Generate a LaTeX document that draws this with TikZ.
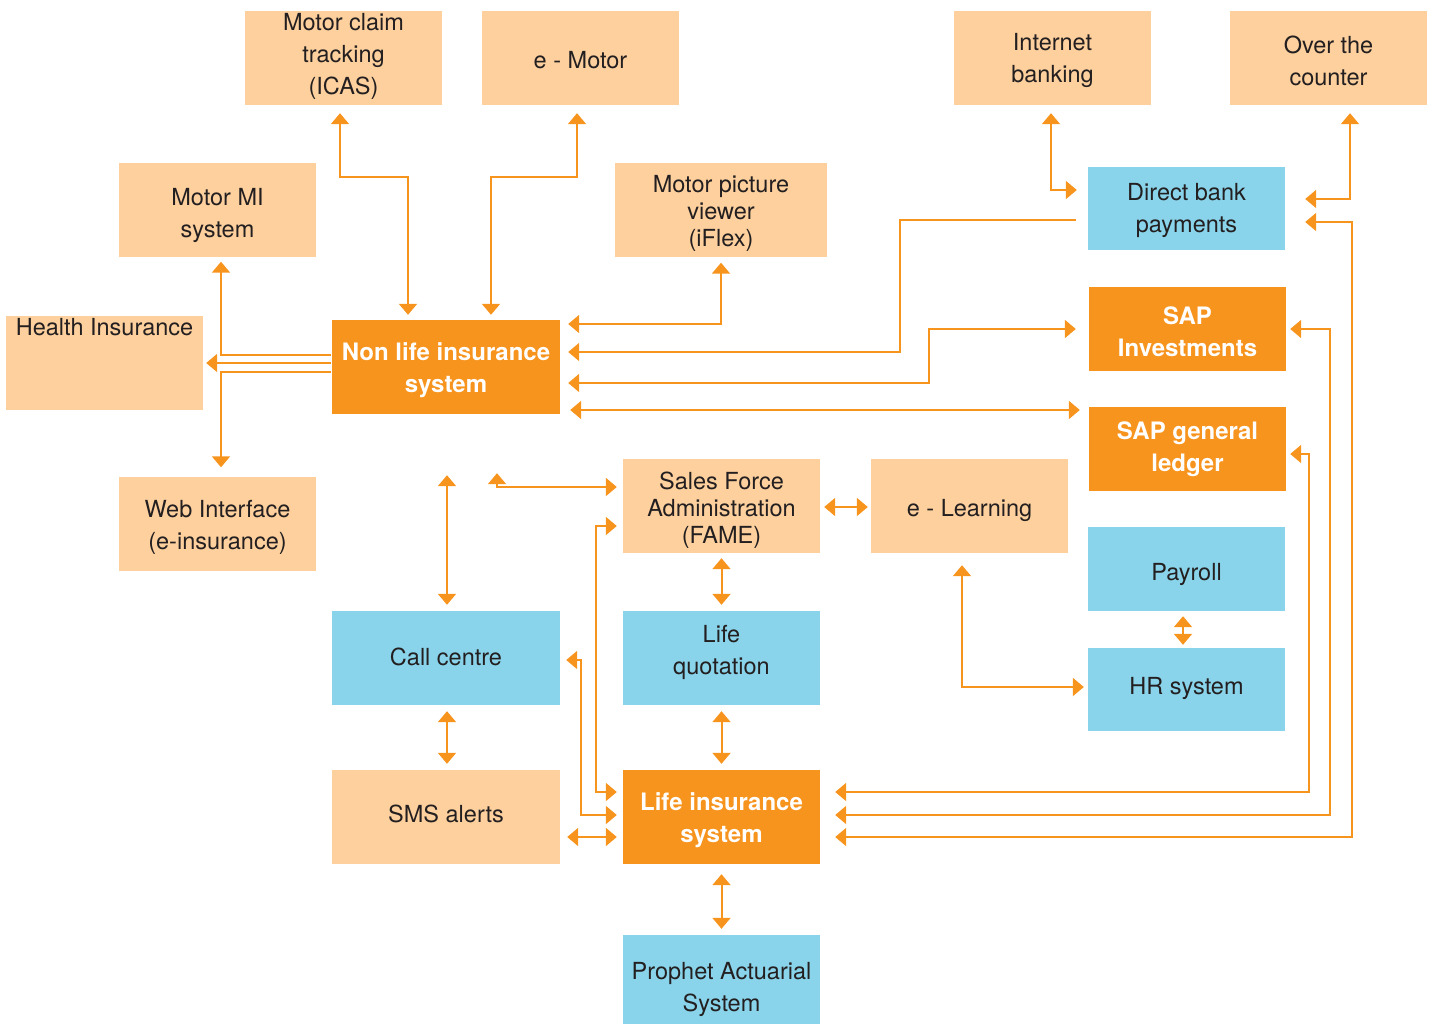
\documentclass[tikz,border=0pt]{standalone}
\usepackage{fontspec}
\setmainfont{TeX Gyre Heros}
\usetikzlibrary{arrows.meta}
\definecolor{peach}{HTML}{FDD09E}
\definecolor{amber}{HTML}{F7941E}
\definecolor{sky}{HTML}{89D4EA}
\definecolor{ink}{HTML}{231F20}

% struts to sit the text a bit lower or higher in its box
\newcommand{\firstline}[1]{\rule{0pt}{#1}}
\newcommand{\lastline}[1]{\rule[-#1]{0pt}{0pt}}

\tikzset{
  box/.style={rectangle, inner sep=2pt, align=center, text=ink,
    font=\fontsize{23.5}{32}\selectfont, minimum width=197pt, minimum height=94pt},
  tight/.style={font=\fontsize{23.5}{27}\selectfont},
  peachbox/.style={box, fill=peach},
  skybox/.style={box, fill=sky, minimum height=84pt},
  amberbox/.style={box, fill=amber, text=white, font=\fontsize{24}{32}\selectfont\bfseries},
  tip/.tip={Triangle[width=18pt,length=11pt]},
  link/.style={amber, line width=2pt, tip-tip, shorten <=6pt, shorten >=6pt},
  feed/.style={amber, line width=2pt, -tip, shorten <=1pt, shorten >=6pt}
}

\begin{document}
\begin{tikzpicture}[x=1pt,y=-1pt]
\useasboundingbox (0,0) rectangle (1434,1025);

% top row
\node[peachbox] (icas) at (343.5,58) {Motor claim\\tracking\\(ICAS)\lastline{8pt}};
\node[peachbox] (emotor) at (580.5,58) {\firstline{21pt}e - Motor};
\node[peachbox] (netbank) at (1052.5,58) {\firstline{23pt}Internet\\banking};
\node[peachbox] (counter) at (1328.5,58) {\firstline{23pt}Over the\\counter};

% non life side
\node[peachbox] (motormi) at (217.5,209.5) {\firstline{29pt}Motor MI\\system};
\node[peachbox, tight, minimum width=212pt] (iflex) at (721,209.5) {\firstline{25pt}Motor picture\\viewer\\(iFlex)};
\node[peachbox, label={[text=ink, font=\fontsize{23.5}{32}\selectfont, anchor=north, inner sep=2pt]north:Health Insurance}] (health) at (104.5,363) {};
\node[amberbox, minimum width=228pt] (nonlife) at (446,367) {\firstline{24pt}Non life insurance\\system};
\node[peachbox] (web) at (217.5,523.5) {\firstline{25pt}Web Interface\\(e-insurance)};

% bank and SAP column
\node[skybox, minimum height=83pt] (directbank) at (1186.5,208.5) {\firstline{21pt}Direct bank\\payments};
\node[amberbox, minimum height=84pt] (sapinv) at (1187.5,329) {\firstline{23pt}SAP\\Investments};
\node[amberbox, minimum height=84pt] (sapgl) at (1187.5,449) {\firstline{19pt}SAP general\\ledger};
\node[skybox] (payroll) at (1186.5,569) {\firstline{29pt}Payroll};
\node[skybox, minimum height=83pt] (hr) at (1186.5,689.5) {HR system\lastline{7.5pt}};

% life side
\node[peachbox, tight] (fame) at (721.5,506) {\firstline{25pt}Sales Force\\Administration\\(FAME)};
\node[peachbox] (elearn) at (969.5,506) {\firstline{27pt}e - Learning};
\node[skybox, minimum width=228pt, minimum height=94pt] (callc) at (446,658) {Call centre\lastline{3pt}};
\node[skybox, minimum height=94pt] (lifeq) at (721.5,658) {Life\\quotation\lastline{16pt}};
\node[peachbox, minimum width=228pt] (sms) at (446,817) {SMS alerts\lastline{6pt}};
\node[amberbox] (life) at (721.5,817) {\firstline{25pt}Life insurance\\system};
\node[skybox, minimum height=89pt] (prophet) at (721.5,979.5) {\firstline{37pt}Prophet Actuarial\\System};

% links of the non life system
\draw[link, shorten <=8pt, shorten >=5pt] (icas.south -| 340,0) |- (408,177) -- (nonlife.north -| 408,0);
\draw[link, shorten <=8pt, shorten >=5pt] (emotor.south -| 577,0) |- (491,177) -- (nonlife.north -| 491,0);
\draw[link, shorten >=8pt] (iflex.south) |- (nonlife.east |- 0,324);
\draw[feed, shorten <=12pt, shorten >=8pt] (directbank.west |- 0,220) -| (900,352) -- (nonlife.east |- 0,352);
\draw[link, shorten <=8pt, shorten >=13pt] (nonlife.east |- 0,383) -| (929,329) -- (sapinv.west |- 0,329);
\draw[link, shorten <=10pt, shorten >=9pt] (nonlife.east |- 0,410) -- (sapgl.west |- 0,410);
\draw[feed, shorten >=5pt] (nonlife.west |- 0,355) -| (motormi.south -| 221,0);
\draw[feed, shorten >=3pt] (nonlife.west |- 0,363) -- (health.east |- 0,363);
\draw[feed, shorten >=9pt] (nonlife.west |- 0,372) -| (web.north -| 221,0);
\draw[link, shorten <=61pt] (nonlife.south -| 447,0) -- (callc.north -| 447,0);
\draw[link, shorten <=59pt] (nonlife.south -| 497,0) |- (fame.west |- 0,487);

% bank links
\draw[link, shorten <=8pt, shorten >=11pt] (netbank.south -| 1051,0) |- (directbank.west |- 0,190);
\draw[link, shorten <=8pt, shorten >=20pt] (counter.south -| 1350,0) |- (directbank.east |- 0,199);

% links of the life system
\draw[link, shorten <=20pt, shorten >=15pt] (directbank.east |- 0,222) -| (1352,837) -- (life.east |- 0,837);
\draw[link, shorten <=4pt, shorten >=15pt] (sapinv.east |- 0,329) -| (1330,815) -- (life.east |- 0,815);
\draw[link, shorten <=4pt, shorten >=15pt] (sapgl.east |- 0,454) -| (1309,792) -- (life.east |- 0,792);
\draw[link] (fame.west |- 0,526) -| (596,792) -- (life.west |- 0,792);
\draw[link] (callc.east |- 0,660) -| (581,815) -- (life.west |- 0,815);
\draw[link, shorten <=7pt] (sms.east |- 0,837) -- (life.west |- 0,837);
\draw[link] (callc.south -| 447,0) -- (sms.north -| 447,0);
\draw[link, shorten <=5pt] (fame.south) -- (lifeq.north);
\draw[link] (lifeq.south) -- (life.north);
\draw[link, shorten <=10pt] (life.south) -- (prophet.north);
\draw[link, shorten <=4pt, shorten >=3pt] (fame.east |- 0,507) -- (elearn.west |- 0,507);
\draw[link, shorten <=12pt, shorten >=4pt] (elearn.south -| 962,0) |- (hr.west |- 0,687);
\draw[link, shorten <=5pt, shorten >=3pt] (payroll.south -| 1183,0) -- (hr.north -| 1183,0);
\end{tikzpicture}
\end{document}
